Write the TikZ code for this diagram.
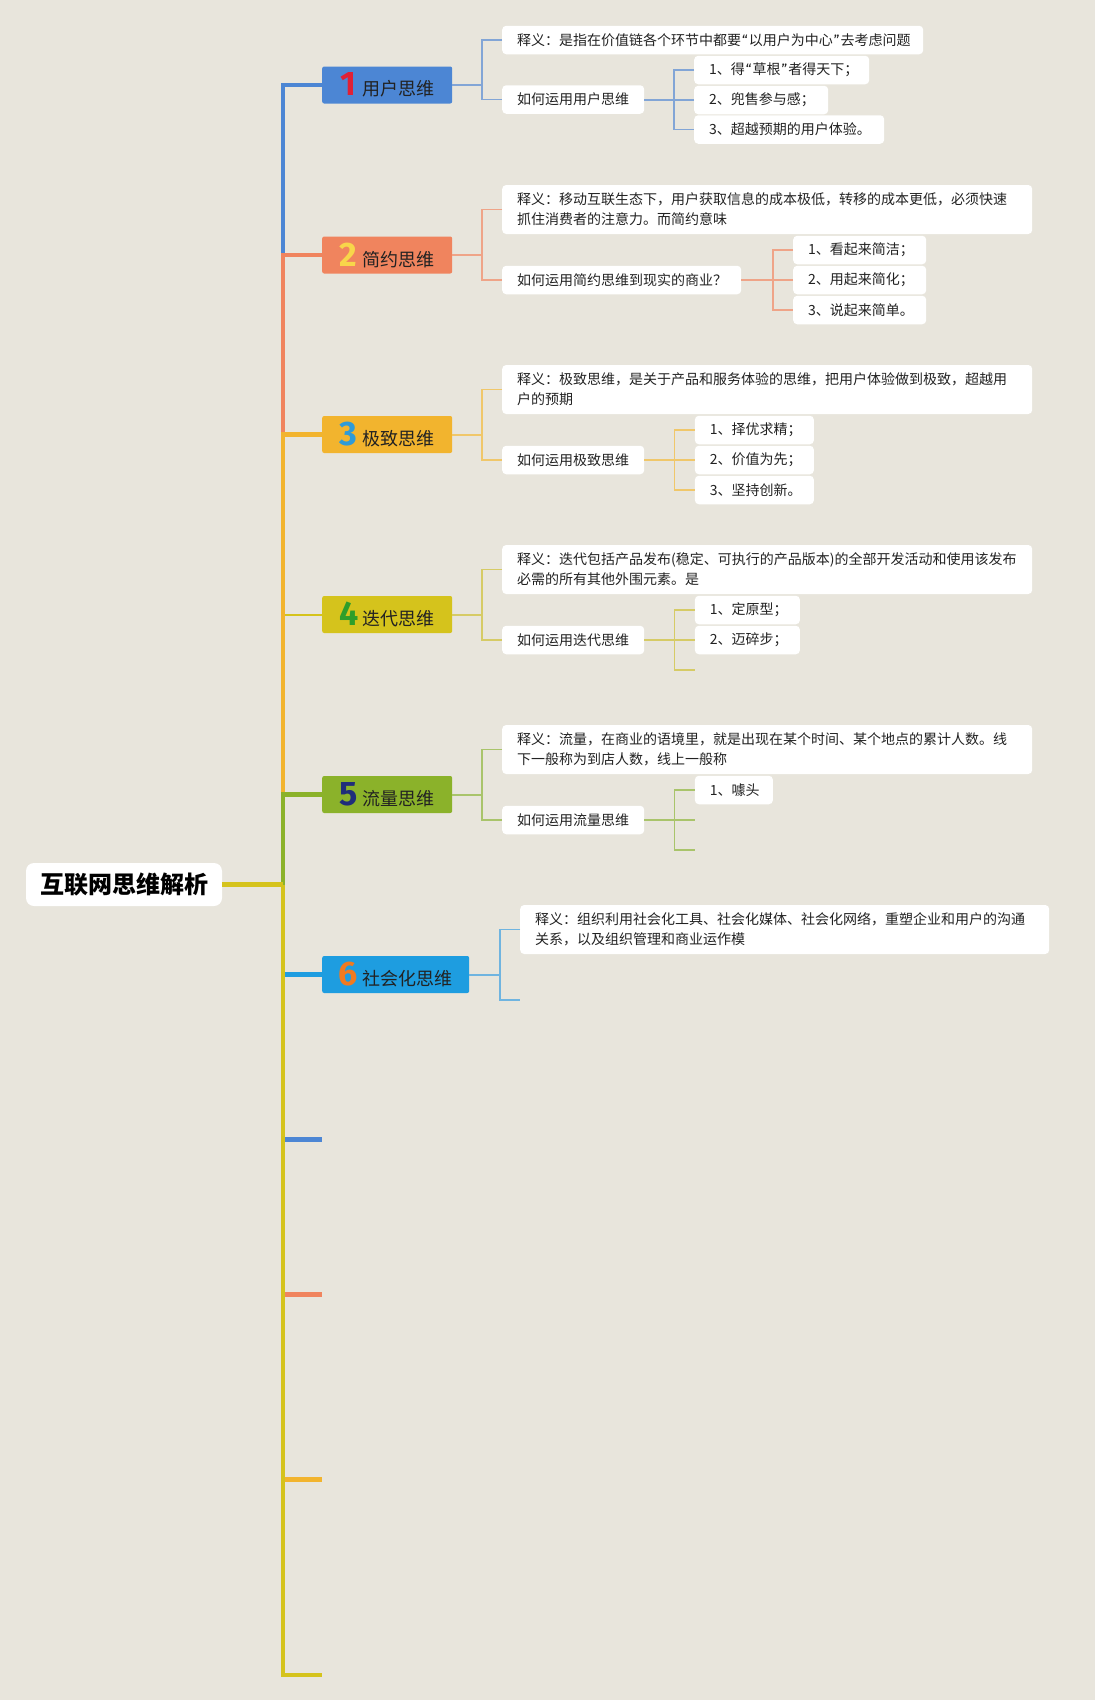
\documentclass[tikz,border=0pt]{standalone}
\usepackage{fontspec}
\setmainfont{Noto Sans CJK SC}
\newfontfamily\numfont{Fira Sans}
\usetikzlibrary{calc}
\definecolor{bg}{HTML}{E8E5DC}
\definecolor{cA}{HTML}{4C86D4}
\definecolor{cB}{HTML}{F0845E}
\definecolor{cC}{HTML}{F2B42E}
\definecolor{cD}{HTML}{D5C31C}
\definecolor{cE}{HTML}{8BB22A}
\definecolor{cF}{HTML}{1E9DE0}
\definecolor{dA}{HTML}{E02035}
\definecolor{dB}{HTML}{F8D64A}
\definecolor{dC}{HTML}{2F9BD8}
\definecolor{dD}{HTML}{2E9E2A}
\definecolor{dE}{HTML}{1F2D7A}
\definecolor{dF}{HTML}{F07A20}
\definecolor{lA}{HTML}{82A5D6}
\definecolor{lB}{HTML}{EFA488}
\definecolor{lC}{HTML}{F0C76A}
\definecolor{lD}{HTML}{D6CB66}
\definecolor{lE}{HTML}{A9C46B}
\definecolor{lF}{HTML}{6FB4E0}
\definecolor{txt}{HTML}{222222}
\newcommand{\mnum}[2]{\makebox[18pt][c]{\numfont\bfseries\fontsize{34}{34}\selectfont\color{#1}#2}\hspace{5pt}}
\newcommand{\oq}{{\numfont\kern1pt“\kern1pt}}
\newcommand{\cq}{{\numfont\kern1pt”\kern1pt}}
\tikzset{
  mainbox/.style={rectangle, rounded corners=2pt, minimum height=37pt, inner sep=0pt,
    anchor=west, text=txt, font=\fontsize{18}{20}\selectfont},
  subbox/.style={rectangle, rounded corners=4pt, fill=white, inner xsep=15pt, inner ysep=0pt,
    minimum height=28.5pt, anchor=west, align=left, text=txt, font=\fontsize{14}{20}\selectfont},
  twoline/.style={minimum height=49pt},
  trunk/.style={line width=4.3pt},
  thin/.style={line width=2pt},
  stem/.style={line width=2pt},
  brk/.style={line width=1.3pt}
}
\begin{document}
\begin{tikzpicture}[x=1pt,y=-1pt]
\fill[bg] (0,0) rectangle (1095,1700);
\useasboundingbox (0,0) rectangle (1095,1700);

% root
\node[rectangle, rounded corners=8pt, fill=white, minimum width=196pt, minimum height=43pt, inner sep=0pt,
  font=\fontsize{24}{26}\selectfont\bfseries, text=black] (root) at (124,884.5) {互联网思维解析};
\coordinate (j) at (283,884.5);

% main nodes
\node[mainbox, fill=cA, minimum width=130pt] (m1) at (322,85) {\mnum{dA}{1}用户思维};
\node[mainbox, fill=cB, minimum width=130pt] (m2) at (322,255) {\mnum{dB}{2}简约思维};
\node[mainbox, fill=cC, minimum width=130pt] (m3) at (322,434.5) {\mnum{dC}{3}极致思维};
\node[mainbox, fill=cD, minimum width=130pt] (m4) at (322,614.5) {\mnum{dD}{4}迭代思维};
\node[mainbox, fill=cE, minimum width=130pt] (m5) at (322,794.5) {\mnum{dE}{5}流量思维};
\node[mainbox, fill=cF, minimum width=147pt] (m6) at (322,974.5) {\mnum{dF}{6}社会化思维};
\coordinate (s7) at (322,1139.5);
\coordinate (s8) at (322,1294.5);
\coordinate (s9) at (322,1479.5);
\coordinate (s10) at (322,1675);

% trunk connectors
\draw[trunk, cA] (j) |- (m1.west);
\draw[trunk, cB] (j) |- (m2.west);
\draw[thin, cD] (j) |- (m4.west);
\draw[trunk, cC] (j) |- (m3.west);
\draw[trunk, cE] (j) |- (m5.west);
\draw[trunk, cF] (j) |- (m6.west);
\draw[trunk, cA] (j) |- (s7);
\draw[trunk, cB] (j) |- (s8);
\draw[trunk, cC] (j) |- (s9);
\draw[trunk, cD] (j) |- (s10);
\draw[line width=4.8pt, cD] (root.east) -- (j);

% ---- branch 1
\node[subbox, text width=391pt] (def1) at (502,40) {释义：是指在价值链各个环节中都要\oq 以用户为中心\cq 去考虑问题};
\node[subbox, text width=112pt] (how1) at (502,99.5) {如何运用用户思维};
\node[subbox, text width=145pt] (i11) at (694,70) {1、得\oq 草根\cq 者得天下；};
\node[subbox, text width=104pt] (i12) at (694,100) {2、兜售参与感；};
\node[subbox, text width=160pt] (i13) at (694,129.5) {3、超越预期的用户体验。};
\draw[stem, lA] (m1.east) -- ++(30,0);
\draw[brk, lA] (def1.west) -- ++(-20,0) |- (how1.west);
\coordinate (k1) at ($(i11.west)+(-20,0)$);
\draw[stem, lA] (how1.east) -- (how1.east -| k1);
\draw[brk, lA] (i11.west) -- ++(-20,0) |- (i13.west);
\draw[brk, lA] (i12.west) -- ++(-20,0);

% ---- branch 2
\node[subbox, twoline, text width=500pt] (def2) at (502,209.5) {释义：移动互联生态下，用户获取信息的成本极低，转移的成本更低，必须快速\\抓住消费者的注意力。而简约意味};
\node[subbox, text width=209pt] (how2) at (502,280) {如何运用简约思维到现实的商业？};
\node[subbox, text width=103pt] (i21) at (793,250) {1、看起来简洁；};
\node[subbox, text width=103pt] (i22) at (793,280) {2、用起来简化；};
\node[subbox, text width=103pt] (i23) at (793,310) {3、说起来简单。};
\draw[stem, lB] (m2.east) -- ++(30,0);
\draw[brk, lB] (def2.west) -- ++(-20,0) |- (how2.west);
\coordinate (k2) at ($(i21.west)+(-20,0)$);
\draw[stem, lB] (how2.east) -- (how2.east -| k2);
\draw[brk, lB] (i21.west) -- ++(-20,0) |- (i23.west);
\draw[brk, lB] (i22.west) -- ++(-20,0);

% ---- branch 3
\node[subbox, twoline, text width=500pt] (def3) at (502,389.5) {释义：极致思维，是关于产品和服务体验的思维，把用户体验做到极致，超越用\\户的预期};
\node[subbox, text width=112pt] (how3) at (502,460) {如何运用极致思维};
\node[subbox, text width=89pt] (i31) at (694.7,430) {1、择优求精；};
\node[subbox, text width=89pt] (i32) at (694.7,460) {2、价值为先；};
\node[subbox, text width=89pt] (i33) at (694.7,490) {3、坚持创新。};
\draw[stem, lC] (m3.east) -- ++(30,0);
\draw[brk, lC] (def3.west) -- ++(-20,0) |- (how3.west);
\coordinate (k3) at ($(i31.west)+(-20,0)$);
\draw[stem, lC] (how3.east) -- (how3.east -| k3);
\draw[brk, lC] (i31.west) -- ++(-20,0) |- (i33.west);
\draw[brk, lC] (i32.west) -- ++(-20,0);

% ---- branch 4
\node[subbox, twoline, text width=500pt] (def4) at (502,569.5) {释义：迭代包括产品发布(稳定、可执行的产品版本)的全部开发活动和使用该发布\\必需的所有其他外围元素。是};
\node[subbox, text width=112pt] (how4) at (502,640) {如何运用迭代思维};
\node[subbox, text width=75pt] (i41) at (694.7,610) {1、定原型；};
\node[subbox, text width=75pt] (i42) at (694.7,640) {2、迈碎步；};
\coordinate (e43) at (694.7,670);
\draw[stem, lD] (m4.east) -- ++(30,0);
\draw[brk, lD] (def4.west) -- ++(-20,0) |- (how4.west);
\coordinate (k4) at ($(i41.west)+(-20,0)$);
\draw[stem, lD] (how4.east) -- (how4.east -| k4);
\draw[brk, lD] (i41.west) -- ++(-20,0) |- (e43);
\draw[brk, lD] (i42.west) -- ++(-20,0);

% ---- branch 5
\node[subbox, twoline, text width=500pt] (def5) at (502,749.5) {释义：流量，在商业的语境里，就是出现在某个时间、某个地点的累计人数。线\\下一般称为到店人数，线上一般称};
\node[subbox, text width=112pt] (how5) at (502,820) {如何运用流量思维};
\node[subbox, text width=48pt] (i51) at (694.7,790) {1、噱头};
\coordinate (e52) at (694.7,820);
\coordinate (e53) at (694.7,850);
\draw[stem, lE] (m5.east) -- ++(30,0);
\draw[brk, lE] (def5.west) -- ++(-20,0) |- (how5.west);
\coordinate (k5) at ($(i51.west)+(-20,0)$);
\draw[stem, lE] (how5.east) -- (how5.east -| k5);
\draw[brk, lE] (i51.west) -- ++(-20,0) |- (e53);
\draw[brk, lE] (e52) -- ++(-20,0);

% ---- branch 6
\node[subbox, twoline, text width=499pt] (def6) at (520,929.5) {释义：组织利用社会化工具、社会化媒体、社会化网络，重塑企业和用户的沟通\\关系，以及组织管理和商业运作模};
\coordinate (e62) at (520,1000);
\draw[stem, lF] (m6.east) -- ++(31,0);
\draw[brk, lF] (def6.west) -- ++(-20,0) |- (e62);
\end{tikzpicture}
\end{document}
